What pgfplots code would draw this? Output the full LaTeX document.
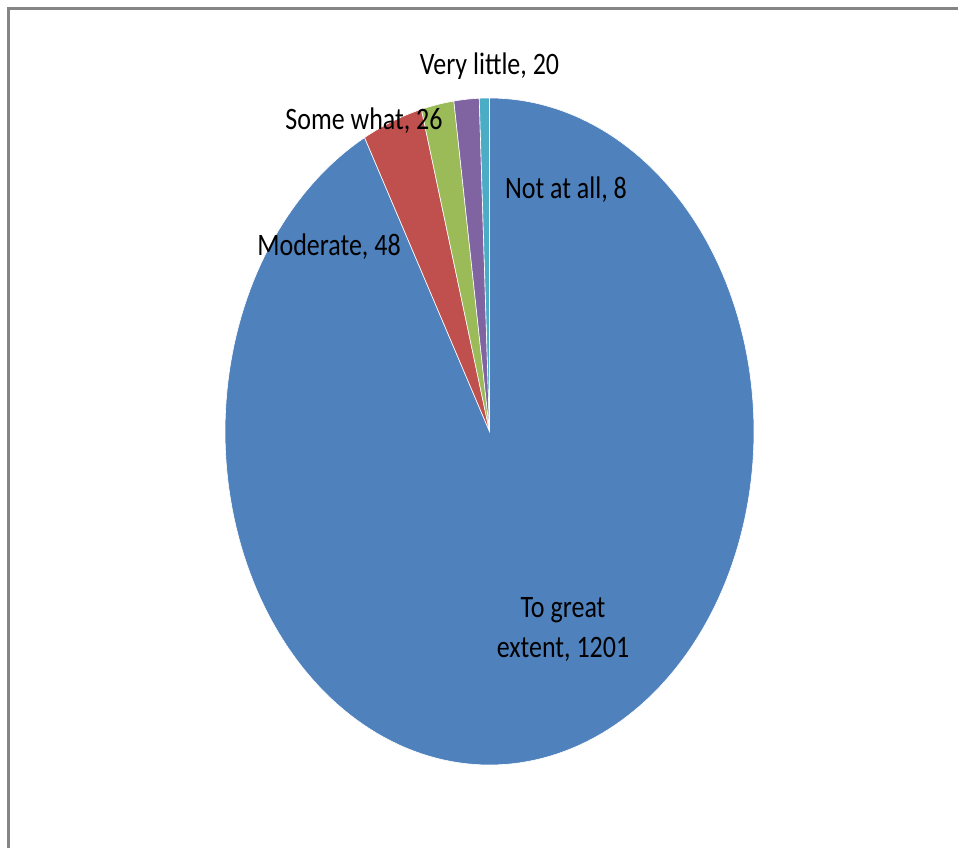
\documentclass[border=0pt]{standalone}
\usepackage{pgfplots}
\pgfplotsset{compat=1.18}
\usepackage{graphicx}
\usepackage{fontspec}
\setmainfont{Carlito}
\definecolor{cBlue}{HTML}{4F81BD}
\definecolor{cRed}{HTML}{C0504D}
\definecolor{cGreen}{HTML}{9BBB59}
\definecolor{cPurple}{HTML}{8064A2}
\definecolor{cCyan}{HTML}{4BACC6}
\definecolor{frame}{HTML}{858585}
% data
\def\vA{1201}% To great extent
\def\vB{48}% Moderate
\def\vC{26}% Some what
\def\vD{20}% Very little
\def\vE{8}% Not at all
\pgfmathsetmacro\total{\vA+\vB+\vC+\vD+\vE}
\pgfmathsetmacro\aA{360*(\vA/\total)}
\pgfmathsetmacro\aB{\aA+360*(\vB/\total)}
\pgfmathsetmacro\aC{\aB+360*(\vC/\total)}
\pgfmathsetmacro\aD{\aC+360*(\vD/\total)}
\newcommand\lbl[1]{\fontsize{26bp}{30bp}\selectfont\scalebox{1}[1.2]{#1}}
\begin{document}
\begin{tikzpicture}
\useasboundingbox (0,0) rectangle (958bp,848bp);
\begin{axis}[
  at={(0,0)}, anchor=south west,
  scale only axis, width=958bp, height=848bp,
  xmin=0, xmax=958, ymin=0, ymax=848, y dir=reverse,
  hide axis, clip=false,
]
\addplot[fill=cBlue, draw=white, line width=0.6bp, domain=0:\aA, samples=200, variable=\t]
  ({489.5+264.5*sin(\t)}, {431.5-333.5*cos(\t)}) -- (axis cs:489.5,431.5) -- cycle;
\addplot[fill=cRed, draw=white, line width=0.6bp, domain=\aA:\aB, samples=20, variable=\t]
  ({489.5+264.5*sin(\t)}, {431.5-333.5*cos(\t)}) -- (axis cs:489.5,431.5) -- cycle;
\addplot[fill=cGreen, draw=white, line width=0.6bp, domain=\aB:\aC, samples=20, variable=\t]
  ({489.5+264.5*sin(\t)}, {431.5-333.5*cos(\t)}) -- (axis cs:489.5,431.5) -- cycle;
\addplot[fill=cPurple, draw=white, line width=0.6bp, domain=\aC:\aD, samples=20, variable=\t]
  ({489.5+264.5*sin(\t)}, {431.5-333.5*cos(\t)}) -- (axis cs:489.5,431.5) -- cycle;
\addplot[fill=cCyan, draw=white, line width=0.6bp, domain=\aD:360, samples=20, variable=\t]
  ({489.5+264.5*sin(\t)}, {431.5-333.5*cos(\t)}) -- (axis cs:489.5,431.5) -- cycle;
% labels
\node[anchor=base, inner sep=0pt] at (axis cs:489.5,75) {\lbl{Very little, 20}};
\node[anchor=base, inner sep=0pt] at (axis cs:566,198) {\lbl{Not at all, 8}};
\node[anchor=base, inner sep=0pt] at (axis cs:364,130) {\lbl{Some what, 26}};
\node[anchor=base, inner sep=0pt] at (axis cs:329,255) {\lbl{Moderate, 48}};
\node[anchor=base, inner sep=0pt] at (axis cs:563,617) {\lbl{To great}};
\node[anchor=base, inner sep=0pt] at (axis cs:563,657) {\lbl{extent, 1201}};
% frame
\draw[frame, line width=2.6bp] (axis cs:8.7,848) -- (axis cs:8.7,8.3) -- (axis cs:958,8.3);
\end{axis}
\end{tikzpicture}
\end{document}
